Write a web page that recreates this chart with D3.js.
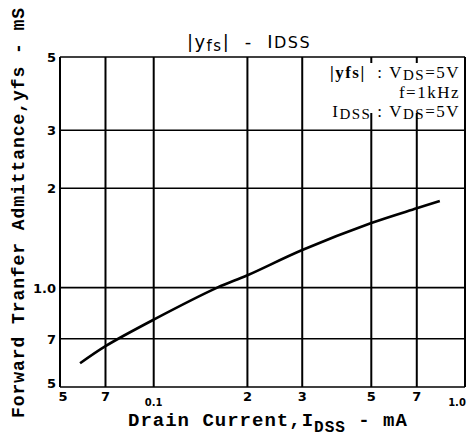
<!DOCTYPE html>
<html lang="en">
<head>
<meta charset="UTF-8" />
<title>|yfs| - IDSS</title>
<script src="https://cdn.jsdelivr.net/npm/d3@7"></script>
<style>
  body { margin: 0; background: #fff; }
  svg { display: block; }
</style>
</head>
<body>
<div class="chart"></div>
<script>
// tick values
const xTicks = [0.05, 0.07, 0.1, 0.2, 0.3, 0.5, 0.7, 1.0];
const xTickLabels = ["5", "7", "0.1", "2", "3", "5", "7", "1.0"];
const yTicks = [0.5, 0.7, 1.0, 2, 3, 5];
const yTickLabels = ["5", "7", "1.0", "2", "3", "5"];

// curve: IDSS (mA) vs |yfs| (mS)
const idss = [0.058, 0.07, 0.1, 0.16, 0.2, 0.3, 0.5, 0.7, 0.83];
const yfs  = [0.59, 0.665, 0.80, 1.0, 1.09, 1.30, 1.57, 1.74, 1.83];

const width = 467, height = 439;
const plotL = 60, plotR = 465, plotT = 57, plotB = 387;

const svg = d3.select(".chart").append("svg")
    .attr("width", width)
    .attr("height", height);

const x = d3.scaleLog().domain([0.05, 1.0]).range([plotL, plotR]);
const y = d3.scaleLog().domain([0.5, 5]).range([plotB, plotT]);

// grid
svg.append("g").selectAll("line")
    .data(xTicks)
    .enter().append("line")
    .attr("x1", d => x(d)).attr("x2", d => x(d))
    .attr("y1", plotT).attr("y2", plotB)
    .attr("stroke", "#000").attr("stroke-width", 2);

svg.append("g").selectAll("line")
    .data(yTicks)
    .enter().append("line")
    .attr("x1", plotL).attr("x2", plotR)
    .attr("y1", d => y(d)).attr("y2", d => y(d))
    .attr("stroke", "#000").attr("stroke-width", 1.6);

// white box behind the conditions
svg.append("rect")
    .attr("x", 308).attr("y", 63)
    .attr("width", 155).attr("height", 50)
    .attr("fill", "#fff");

// curve
const line = d3.line()
    .x(d => x(d[0]))
    .y(d => y(d[1]))
    .curve(d3.curveCatmullRom);

svg.append("path")
    .datum(d3.zip(idss, yfs))
    .attr("d", line)
    .attr("fill", "none")
    .attr("stroke", "#000")
    .attr("stroke-width", 2.6);

// tick labels
svg.append("g").selectAll("text")
    .data(yTicks)
    .enter().append("text")
    .attr("x", plotL - 4)
    .attr("y", (d, i) => y(d) + (i == 0 ? 1 : 5))
    .attr("text-anchor", "end")
    .style("font", "bold 13px 'DejaVu Sans'")
    .text((d, i) => yTickLabels[i]);

svg.append("g").selectAll("text")
    .data(xTicks)
    .enter().append("text")
    .attr("x", (d, i) => x(d) + (i == 0 ? 3 : 0) + (i == 7 ? -8 : 0))
    .attr("y", (d, i) => (i == 2 || i == 7) ? 406 : 401)
    .attr("text-anchor", "middle")
    .style("font", (d, i) => (i == 2 || i == 7) ? "bold 10px 'DejaVu Sans'" : "bold 13px 'DejaVu Sans'")
    .text((d, i) => xTickLabels[i]);

// title
const title = svg.append("text")
    .attr("x", 249).attr("y", 48)
    .attr("text-anchor", "middle")
    .style("font", "18px 'DejaVu Sans'")
    .style("letter-spacing", "1.5px");
title.append("tspan").text("|y");
title.append("tspan").attr("dy", 3).style("font-size", "15px").text("fs");
title.append("tspan").attr("dy", -3).text("|\u00a0\u00a0-\u00a0\u00a0I");
title.append("tspan").style("font-size", "16px").text("DSS");

// conditions
const cond = svg.append("g")
    .style("font", "17px 'Liberation Serif'")
    .style("letter-spacing", "1.5px")
    .attr("text-anchor", "end");
const c1 = cond.append("text").attr("x", 460).attr("y", 78);
c1.append("tspan").style("font-weight", "bold").text("|yfs|");
c1.append("tspan").text("\u00a0\u00a0:\u00a0V");
c1.append("tspan").attr("dy", 2).style("font-size", "15px").text("DS");
c1.append("tspan").attr("dy", -2).text("=5V");
cond.append("text").attr("x", 460).attr("y", 98).text("f=1kHz");
const c3 = cond.append("text").attr("x", 460).attr("y", 117);
c3.append("tspan").text("I");
c3.append("tspan").attr("dy", 2).style("font-size", "15px").text("DSS");
c3.append("tspan").attr("dy", -2).text("\u00a0:\u00a0V");
c3.append("tspan").attr("dy", 2).style("font-size", "15px").text("DS");
c3.append("tspan").attr("dy", -2).text("=5V");

// axis titles
const xl = svg.append("text")
    .attr("x", 128).attr("y", 426)
    .style("font", "bold 19px 'Liberation Mono'")
    .style("letter-spacing", "1px");
xl.append("tspan").text("Drain Current,I");
xl.append("tspan").attr("dy", 6).style("font-size", "16px").text("DSS");
xl.append("tspan").attr("dy", -6).text(" - mA");

svg.append("text")
    .attr("transform", "translate(24,418) rotate(-90)")
    .attr("textLength", 410)
    .style("font", "bold 18px 'Liberation Mono'")
    .text("Forward Tranfer Admittance,yfs - mS");
</script>
</body>
</html>
